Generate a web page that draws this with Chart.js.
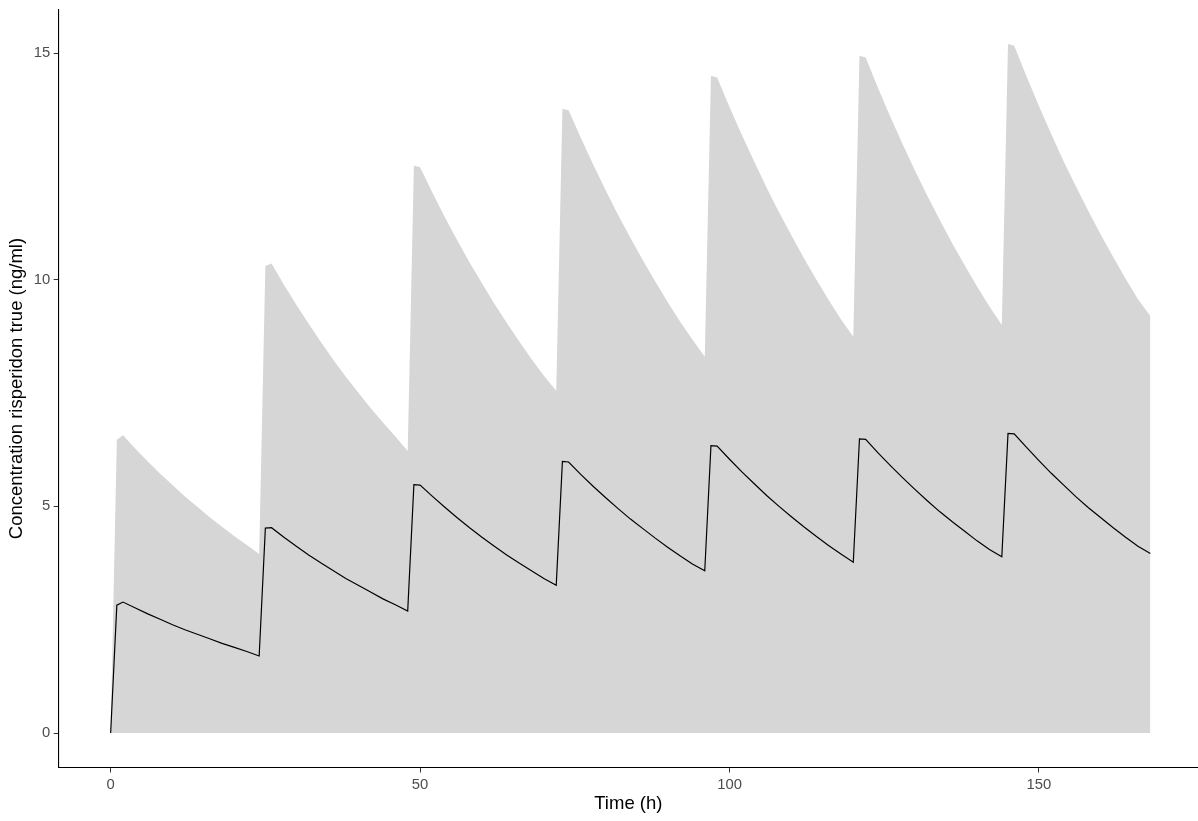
<!DOCTYPE html>
<html lang="en">
<head>
    <meta charset="UTF-8">
    <title>Risperidon concentration over time</title>
    <script src="https://cdn.jsdelivr.net/npm/chart.js"></script>
    <style>
        html, body { margin: 0; padding: 0; background: #fff; overflow: hidden; }
        #wrap { position: relative; width: 1198px; height: 821px; }
    </style>
</head>
<body>
    <div id="wrap"><canvas id="concChart"></canvas></div>

    <script>
        // sampling times (h), one dose every 24 h
        const hours = [
            0, 1, 2, 4, 6, 8, 10, 12, 14, 16, 18, 20, 22,
            24, 25, 26, 28, 30, 32, 34, 36, 38, 40, 42, 44, 46,
            48, 49, 50, 52, 54, 56, 58, 60, 62, 64, 66, 68, 70,
            72, 73, 74, 76, 78, 80, 82, 84, 86, 88, 90, 92, 94,
            96, 97, 98, 100, 102, 104, 106, 108, 110, 112, 114, 116, 118,
            120, 121, 122, 124, 126, 128, 130, 132, 134, 136, 138, 140, 142,
            144, 145, 146, 148, 150, 152, 154, 156, 158, 160, 162, 164, 166,
            168
        ];

        // mean concentration (ng/ml)
        const meanConc = [
            0, 2.82, 2.89, 2.76, 2.63, 2.51, 2.39, 2.28, 2.18, 2.08, 1.98, 1.89, 1.80,
            1.70, 4.52, 4.53, 4.32, 4.12, 3.93, 3.75, 3.58, 3.41, 3.26, 3.11, 2.96, 2.83,
            2.69, 5.48, 5.47, 5.22, 4.98, 4.75, 4.53, 4.32, 4.12, 3.93, 3.75, 3.58, 3.41,
            3.26, 5.99, 5.98, 5.70, 5.44, 5.19, 4.95, 4.72, 4.51, 4.30, 4.10, 3.91, 3.73,
            3.58, 6.34, 6.33, 6.04, 5.76, 5.50, 5.24, 5.00, 4.77, 4.55, 4.34, 4.14, 3.95,
            3.77, 6.49, 6.48, 6.18, 5.90, 5.63, 5.37, 5.12, 4.88, 4.66, 4.45, 4.24, 4.05,
            3.89, 6.61, 6.60, 6.30, 6.01, 5.73, 5.47, 5.21, 4.97, 4.75, 4.53, 4.32, 4.12,
            3.96
        ];

        // upper limit of the shaded band (ng/ml), band goes down to 0
        const upperConc = [
            0, 6.47, 6.57, 6.27, 5.99, 5.72, 5.47, 5.22, 4.99, 4.76, 4.55, 4.34, 4.15,
            3.95, 10.30, 10.36, 9.89, 9.45, 9.03, 8.62, 8.23, 7.86, 7.51, 7.17, 6.85, 6.54,
            6.22, 12.52, 12.48, 11.92, 11.38, 10.87, 10.38, 9.92, 9.47, 9.05, 8.64, 8.25, 7.88,
            7.55, 13.77, 13.74, 13.12, 12.53, 11.97, 11.43, 10.92, 10.43, 9.96, 9.51, 9.08, 8.68,
            8.30, 14.50, 14.46, 13.81, 13.19, 12.60, 12.03, 11.49, 10.98, 10.48, 10.01, 9.56, 9.13,
            8.74, 14.94, 14.90, 14.23, 13.59, 12.98, 12.40, 11.84, 11.31, 10.80, 10.32, 9.85, 9.41,
            9.00, 15.20, 15.16, 14.48, 13.83, 13.21, 12.61, 12.05, 11.51, 10.99, 10.50, 10.02, 9.57,
            9.20
        ];

        const xTicks = [0, 50, 100, 150];
        const yTicks = [0, 5, 10, 15];

        const toPoints = vals => hours.map((h, i) => ({ x: h, y: vals[i] }));

        const tickFont = { family: "'Liberation Sans', Arial, sans-serif", size: 14.8 };
        const titleFont = { family: "'Liberation Sans', Arial, sans-serif", size: 18.5 };

        const ctx = document.getElementById("concChart").getContext("2d");
        new Chart(ctx, {
            type: "line",
            data: {
                datasets: [
                    {
                        label: "mean",
                        data: toPoints(meanConc),
                        borderColor: "#000000",
                        borderWidth: 1.2,
                        pointRadius: 0,
                        fill: false,
                        tension: 0,
                        order: 0
                    },
                    {
                        label: "band",
                        data: toPoints(upperConc),
                        borderWidth: 0,
                        borderColor: "rgba(0,0,0,0)",
                        backgroundColor: "#d6d6d6",
                        pointRadius: 0,
                        fill: "origin",
                        tension: 0,
                        order: 1
                    }
                ]
            },
            options: {
                responsive: true,
                maintainAspectRatio: false,
                animation: false,
                layout: {
                    padding: { left: 6, right: 0, top: 9.5, bottom: 6 }
                },
                plugins: {
                    legend: { display: false },
                    tooltip: { enabled: false }
                },
                scales: {
                    x: {
                        type: "linear",
                        min: -8.4,
                        max: 175.7,
                        afterBuildTicks: scale => { scale.ticks = xTicks.map(v => ({ value: v })); },
                        grid: { display: true, drawOnChartArea: false, drawTicks: true, tickLength: 5, color: "#333333" },
                        border: { display: true, color: "#000000", width: 1.1 },
                        ticks: { color: "#4d4d4d", font: tickFont, padding: 3.5, maxRotation: 0 },
                        title: {
                            display: true,
                            text: "Time (h)",
                            color: "#000000",
                            font: titleFont,
                            padding: { top: -4.5, bottom: 0 }
                        }
                    },
                    y: {
                        type: "linear",
                        min: -0.76,
                        max: 15.96,
                        afterBuildTicks: scale => { scale.ticks = yTicks.map(v => ({ value: v })); },
                        grid: { display: true, drawOnChartArea: false, drawTicks: true, tickLength: 5, color: "#333333" },
                        border: { display: true, color: "#000000", width: 1.1 },
                        ticks: { color: "#4d4d4d", font: { ...tickFont, lineHeight: 0.8 }, padding: 3.5 },
                        title: {
                            display: true,
                            text: "Concentration risperidon true (ng/ml)",
                            color: "#000000",
                            font: titleFont,
                            padding: { top: 0, bottom: 2 }
                        }
                    }
                }
            }
        });
    </script>
</body>
</html>
